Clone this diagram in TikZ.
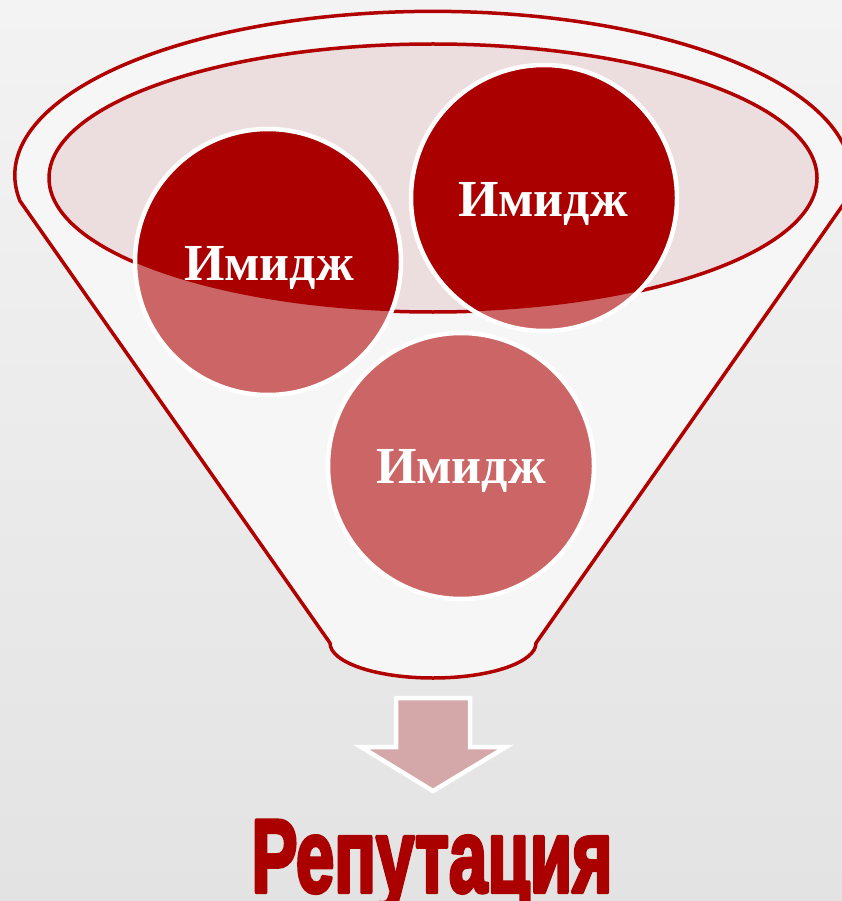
\documentclass[tikz,border=0pt]{standalone}
\usepackage{fontspec}
\usepackage{graphicx}
\setmainfont{Liberation Serif}
\newfontfamily\repfont{Liberation Sans}[BoldFeatures={FakeBold=4}]
\definecolor{dred}{HTML}{AA0000}
\definecolor{lred}{HTML}{CC6666}
\definecolor{rimred}{HTML}{B00000}
\definecolor{ellfill}{HTML}{ECDEDF}
\definecolor{funfill}{HTML}{F6F6F6}
\definecolor{arrfill}{HTML}{D4A7A9}
\definecolor{bgtop}{HTML}{F3F3F3}
\definecolor{bgbot}{HTML}{E3E3E3}
\tikzset{
  rim/.style={draw=rimred, line width=3.5pt},
  bubble/.style={white, line width=4.5pt},
  imtext/.style={text=white, anchor=base, font=\fontsize{52}{60}\selectfont\bfseries, inner sep=0pt},
  arrowbox/.style={draw=white, line width=4.5pt, fill=arrfill, line join=miter}
}
\begin{document}
\begin{tikzpicture}[x=1pt,y=-1pt,line join=round]
\useasboundingbox (0,0) rectangle (842,901);
\shade[top color=bgtop, bottom color=bgbot] (0,0) rectangle (842,901);
% funnel body
\draw[rim, fill=funfill] (20,201) arc[start angle=171, end angle=369, x radius=418, y radius=164]
  -- (536,643) arc[start angle=0, end angle=180, x radius=103, y radius=35] -- cycle;
% inner ellipse
\draw[rim, fill=ellfill] (433,178) ellipse [x radius=384, y radius=134];
% circles
\foreach \cx/\cy in {268/262, 544/198, 461/466}
  \fill[lred] (\cx,\cy) circle [radius=133];
\begin{scope}
  \clip (433,178) ellipse [x radius=384, y radius=134];
  \foreach \cx/\cy in {268/262, 544/198, 461/466}
    \fill[dred] (\cx,\cy) circle [radius=133];
\end{scope}
\foreach \cx/\cy in {268/262, 544/198, 461/466}
  \draw[bubble] (\cx,\cy) circle [radius=133];
\node[imtext] (t1) at (269,280) {Имидж};
\node[imtext] (t2) at (543,217) {Имидж};
\node[imtext] (t3) at (461,483) {Имидж};
% arrow
\draw[arrowbox] (396,698) -- (470,698) -- (470,747) -- (506,747) -- (433,791)
  -- (361,747) -- (396,747) -- cycle;
% bottom title
\node[anchor=base, text=dred, inner sep=0pt] (rep) at (432,892)
  {\resizebox{361pt}{\height}{\repfont\bfseries\fontsize{104}{104}\selectfont Репутация}};
\end{tikzpicture}
\end{document}
